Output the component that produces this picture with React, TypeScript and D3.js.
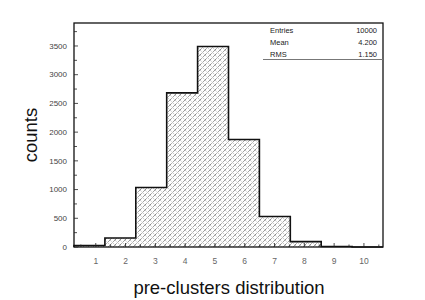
import React, { useEffect, useRef } from 'react';
import * as d3 from 'd3';

// histogram contents, one value per bin (bins 0-1, 1-2, ... 9-10)
const binEdges = [0, 1, 2, 3, 4, 5, 6, 7, 8, 9, 10];
const binCounts = [25, 157, 1035, 2683, 3490, 1871, 530, 94, 10, 0];

// axis labels
const xTickLabels = [1, 2, 3, 4, 5, 6, 7, 8, 9, 10];
const yTickValues = [0, 500, 1000, 1500, 2000, 2500, 3000, 3500];

// stats box
const statNames = ['Entries', 'Mean', 'RMS'];
const statValues = ['10000', '4.200', '1.150'];

const App = () => {
  const chartRef = useRef<SVGSVGElement | null>(null);

  useEffect(() => {
    const svg = d3.select(chartRef.current);
    svg.selectAll('*').remove();

    // frame
    const left = 74, right = 383, top = 23, bottom = 247;

    const x = d3.scaleLinear().domain([0, 10]).range([left, right]);
    // the printed axis labels do not sit on the bin edges
    const xAxisScale = d3.scaleLinear().domain([0.27, 10.64]).range([left, right]);
    const y = d3.scaleLinear().domain([0, 3900]).range([bottom, top]);

    // cross hatch pattern, dotted
    const defs = svg.append('defs');
    const pat = defs.append('pattern')
      .attr('id', 'hatch')
      .attr('patternUnits', 'userSpaceOnUse')
      .attr('width', 5)
      .attr('height', 5);
    pat.append('path')
      .attr('d', 'M0,5 L5,0 M-1,1 L1,-1 M4,6 L6,4')
      .attr('stroke', '#555')
      .attr('stroke-width', 0.8)
      .attr('stroke-dasharray', '1.2,0.8');
    pat.append('path')
      .attr('d', 'M0,0 L5,5 M-1,4 L1,6 M4,-1 L6,1')
      .attr('stroke', '#999')
      .attr('stroke-width', 0.7)
      .attr('stroke-dasharray', '1,1.2');

    // filled bins
    svg.append('g')
      .selectAll('rect')
      .data(binCounts)
      .enter()
      .append('rect')
        .attr('x', (d, i) => x(binEdges[i]))
        .attr('y', d => y(d))
        .attr('width', (d, i) => x(binEdges[i + 1]) - x(binEdges[i]))
        .attr('height', d => bottom - y(d))
        .attr('fill', 'url(#hatch)');

    // step outline
    const steps: [number, number][] = [];
    binCounts.forEach((c, i) => {
      steps.push([x(binEdges[i]), y(c)]);
      steps.push([x(binEdges[i + 1]), y(c)]);
    });
    svg.append('path')
      .attr('d', d3.line()([[x(binEdges[0]), y(0)], ...steps, [x(binEdges[binEdges.length - 1]), y(0)]]))
      .attr('fill', 'none')
      .attr('stroke', '#111')
      .attr('stroke-width', 1.6);

    // frame box
    svg.append('rect')
      .attr('x', left)
      .attr('y', top)
      .attr('width', right - left)
      .attr('height', bottom - top)
      .attr('fill', 'none')
      .attr('stroke', '#111')
      .attr('stroke-width', 1.3);

    // y ticks (inward) every 250
    const yTicks = d3.range(0, 3900, 250);
    svg.append('g')
      .selectAll('line')
      .data(yTicks)
      .enter()
      .append('line')
        .attr('x1', left)
        .attr('x2', d => left + (d % 500 === 0 ? 4 : 3))
        .attr('y1', d => y(d))
        .attr('y2', d => y(d))
        .attr('stroke', '#222')
        .attr('stroke-width', 0.8);

    svg.append('g')
      .selectAll('text')
      .data(yTickValues)
      .enter()
      .append('text')
        .attr('x', 67)
        .attr('y', d => y(d))
        .attr('dy', '0.35em')
        .attr('text-anchor', 'end')
        .style('font-family', 'Liberation Sans, Arial, sans-serif')
        .style('font-size', '8px')
        .style('fill', '#444')
        .text(d => d);

    // x ticks (inward)
    const xTicks = d3.range(0.5, 10.6, 0.5);
    svg.append('g')
      .selectAll('line')
      .data(xTicks)
      .enter()
      .append('line')
        .attr('x1', d => xAxisScale(d))
        .attr('x2', d => xAxisScale(d))
        .attr('y1', bottom)
        .attr('y2', d => bottom - (d % 1 === 0 ? 4 : 2.5))
        .attr('stroke', '#222')
        .attr('stroke-width', 0.8);

    svg.append('g')
      .selectAll('text')
      .data(xTickLabels)
      .enter()
      .append('text')
        .attr('x', d => xAxisScale(d))
        .attr('y', 261)
        .attr('dy', '0.35em')
        .attr('text-anchor', 'middle')
        .style('font-family', 'Liberation Sans, Arial, sans-serif')
        .style('font-size', '8.5px')
        .style('fill', '#666')
        .text(d => d);

    // axis titles
    svg.append('text')
      .attr('x', 229)
      .attr('y', 294)
      .attr('text-anchor', 'middle')
      .style('font-family', 'Liberation Sans, Arial, sans-serif')
      .style('font-size', '18.5px')
      .style('fill', '#111')
      .text('pre-clusters distribution');

    svg.append('text')
      .attr('transform', 'translate(37,135) rotate(-90)')
      .attr('text-anchor', 'middle')
      .style('font-family', 'Liberation Sans, Arial, sans-serif')
      .style('font-size', '18.5px')
      .style('fill', '#111')
      .text('counts');

    // stats box
    const stats = svg.append('g');
    statNames.forEach((name, i) => {
      stats.append('text')
        .attr('x', 270)
        .attr('y', 30 + i * 12)
        .attr('dy', '0.35em')
        .style('font-family', 'Liberation Sans, Arial, sans-serif')
        .style('font-size', '7.5px')
        .style('fill', '#222')
        .text(name);
      stats.append('text')
        .attr('x', 377)
        .attr('y', 30 + i * 12)
        .attr('dy', '0.35em')
        .attr('text-anchor', 'end')
        .style('font-family', 'Liberation Sans, Arial, sans-serif')
        .style('font-size', '7.5px')
        .style('fill', '#222')
        .text(statValues[i]);
    });
    stats.append('line')
      .attr('x1', 263)
      .attr('x2', right)
      .attr('y1', 59.5)
      .attr('y2', 59.5)
      .attr('stroke', '#777')
      .attr('stroke-width', 1);
  }, []);

  return (
    <div style={{ position: 'fixed', left: 0, top: 0 }}>
      <svg ref={chartRef} width={425} height={300} style={{ display: 'block', background: '#fff' }} />
    </div>
  );
};

export default App;
